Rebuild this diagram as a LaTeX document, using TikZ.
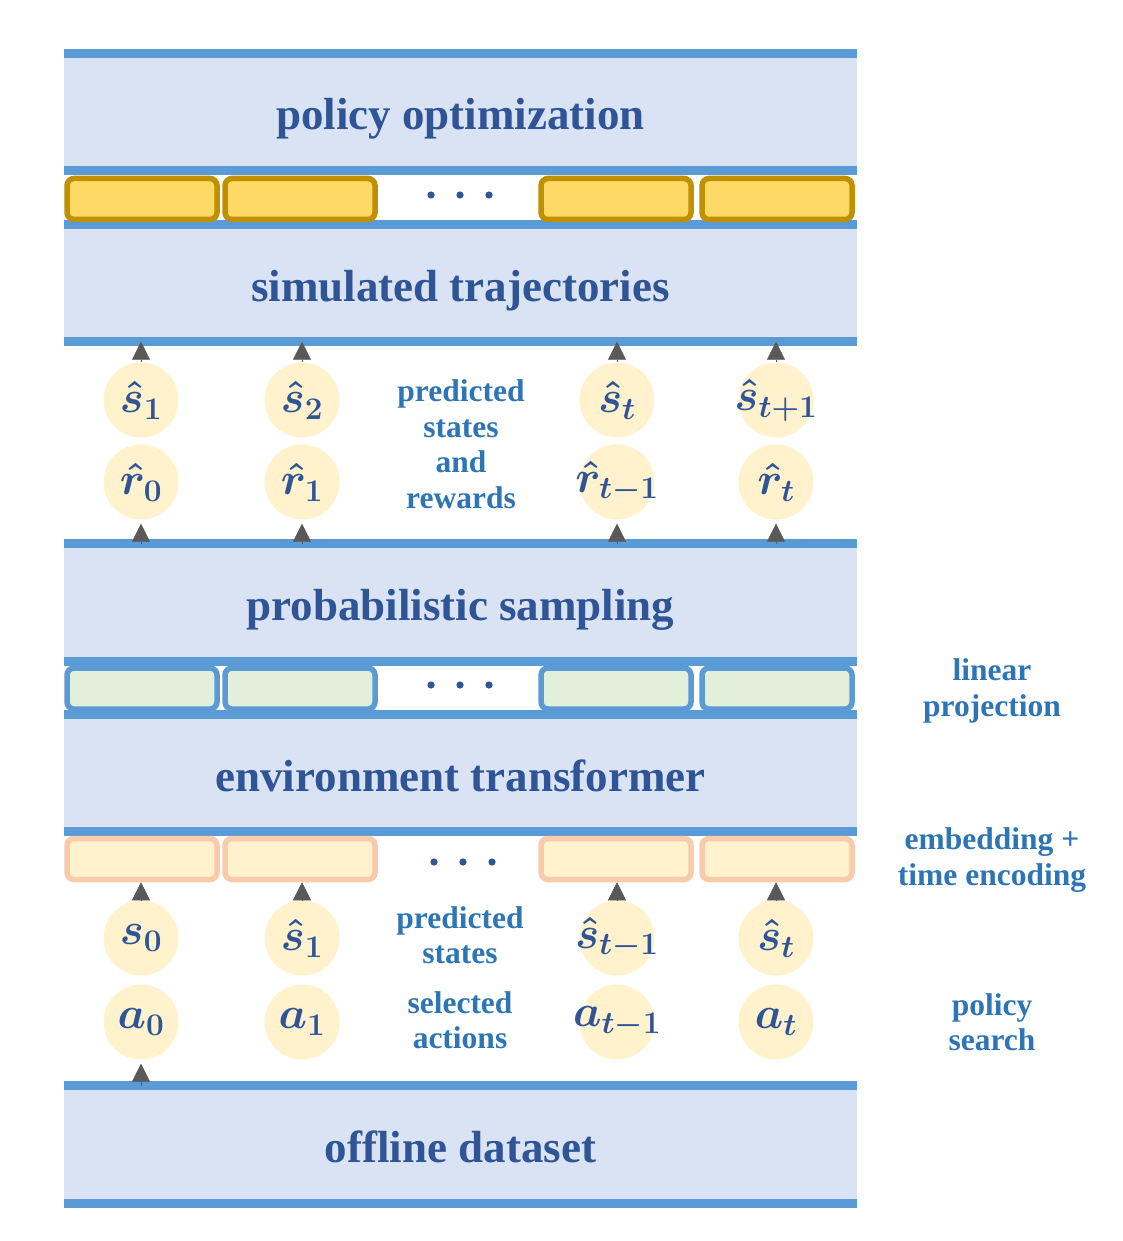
\RequirePackage{fix-cm}
\documentclass[tikz,border=0pt]{standalone}
\usepackage{amsmath,amssymb}
\usepackage{fontspec}
\setmainfont{Liberation Serif}
\usepackage{tikz}
\usetikzlibrary{arrows.meta,positioning}
\definecolor{bandfill}{HTML}{DAE3F3}
\definecolor{lineblue}{HTML}{5B9BD5}
\definecolor{titleblue}{HTML}{2F5597}
\definecolor{noteblue}{HTML}{2E75B6}
\definecolor{tokfill}{HTML}{FFF2CC}
\definecolor{gold}{HTML}{BF9000}
\definecolor{goldfill}{HTML}{FFD966}
\definecolor{greenfill}{HTML}{E2EFDA}
\definecolor{peach}{HTML}{F8CBAD}
\definecolor{arrowgray}{HTML}{595959}
\newcommand{\tokmath}[1]{\makebox[0pt]{$#1$}}

\begin{document}
\begin{tikzpicture}[x=1pt,y=-1pt,
  band/.style={fill=bandfill,minimum width=793,minimum height=117,inner sep=0,text height=36pt,text depth=0pt,text=titleblue,font=\fontsize{45}{54}\selectfont\bfseries},
  bandline/.style={draw=lineblue,line width=9pt},
  cell/.style={rounded corners=7pt,line width=5.5pt,minimum width=150,minimum height=41,inner sep=0},
  tok/.style={circle,fill=tokfill,minimum size=75,inner sep=0,text=titleblue,font=\fontsize{45}{48}\selectfont\boldmath},
  note/.style={align=center,text=noteblue,font=\fontsize{31.5}{35.5}\selectfont\bfseries},
  tri/.style={-{Triangle[width=18pt,length=18pt]},draw=arrowgray,fill=arrowgray,line width=0.5pt}]
  \fill[white] (0,0) rectangle (1123,1241);
  \useasboundingbox (0,0) rectangle (1123,1241);
  % layers
  \foreach \name/\y/\txt in {opt/112/policy optimization,sim/283/simulated trajectories,prob/602.5/probabilistic sampling,env/773/environment transformer,data/1144.5/offline dataset}{
    \node[band] (\name) at (460.5,\y) {\txt};
    \draw[bandline] (\name.north west) -- (\name.north east) (\name.south west) -- (\name.south east);
  }
  % token rows
  \foreach \i/\x in {1/142,2/300,3/616,4/777}{
    \node[cell,draw=gold,fill=goldfill] (traj\i) at (\x,199) {};
    \node[cell,draw=lineblue,fill=greenfill] (proj\i) at (\x,688.5) {};
    \node[cell,draw=peach,fill=tokfill] (emb\i) at (\x,859) {};
  }
  \foreach \x/\y in {460/195,460/685,463/862}
    \foreach \dx in {-29,0,29}
      \fill[titleblue] (\x+\dx,\y) circle (3.6pt);
  % predicted states and rewards
  \foreach \i/\x/\s/\r in {1/141/{\hat{s}_1}/{\hat{r}_0},2/302/{\hat{s}_2}/{\hat{r}_1},3/617/{\hat{s}_t}/{\hat{r}_{t-1}},4/776/{\hat{s}_{t+1}}/{\hat{r}_t}}{
    \node[tok] (shat\i) at (\x,400) {\tokmath{\s}};
    \node[tok] (rhat\i) at (\x,482) {\tokmath{\r}};
    \draw[tri] (shat\i.north) -- (shat\i.north |- sim.south);
    \draw[tri,shorten >=4pt] (rhat\i.south |- prob.north) -- (rhat\i.south);
  }
  % states and actions
  \foreach \i/\x/\s/\a in {1/141/{s_0}/{a_0},2/302/{\hat{s}_1}/{a_1},3/617/{\hat{s}_{t-1}}/{a_{t-1}},4/776/{\hat{s}_t}/{a_t}}{
    \node[tok] (st\i) at (\x,938) {\tokmath{\s}};
    \node[tok] (act\i) at (\x,1022) {\tokmath{\a}};
    \draw[tri] (st\i.north) -- (st\i.north |- emb\i.south);
  }
  \draw[tri,shorten >=4pt] (act1.south |- data.north) -- (act1.south);
  % notes
  \node[note] (predsr) at (461,444) {predicted\\states\\and\\rewards};
  \node[note] (preds) at (460,935) {predicted\\states};
  \node[note] (sela) at (460,1020) {selected\\actions};
  \node[note] (linproj) at (992,691) {linear\\projection};
  \node[note] (embenc) at (992,860) {embedding +\\time encoding};
  \node[note] (polsearch) at (992,1022) {policy\\search};
\end{tikzpicture}
\end{document}
